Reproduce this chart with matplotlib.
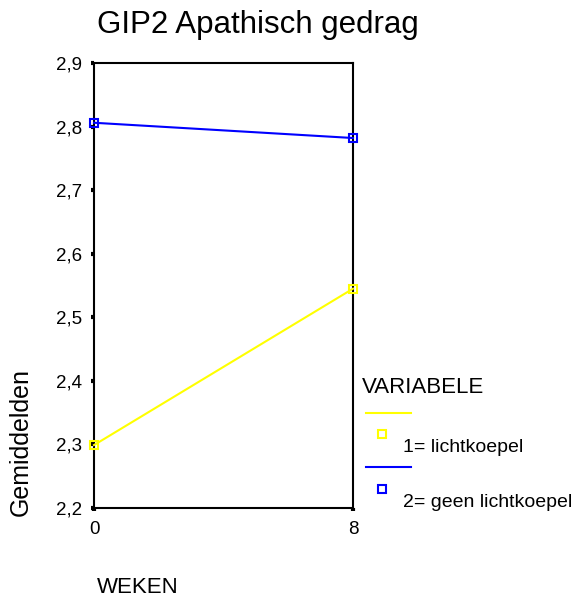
import matplotlib
matplotlib.use("Agg")
import matplotlib.pyplot as plt
from matplotlib.lines import Line2D

plt.rcParams['font.family'] = ['Liberation Sans', 'DejaVu Sans']

weeks = [0, 8]
lichtkoepel = [2.299, 2.545]
geen_lichtkoepel = [2.806, 2.782]
yticks = [2.2, 2.3, 2.4, 2.5, 2.6, 2.7, 2.8, 2.9]
ytick_labels = ["2,2", "2,3", "2,4", "2,5", "2,6", "2,7", "2,8", "2,9"]
series_labels = ["1= lichtkoepel", "2= geen lichtkoepel"]
colors = ["#ffff00", "#0000ff"]

W, H = 580, 599
fig = plt.figure(figsize=(W/100, H/100), dpi=100)
ax = fig.add_axes([94/W, 1-508/H, (353-94)/W, (508-63)/H])

for vals, c in zip([lichtkoepel, geen_lichtkoepel], colors):
    ax.plot(weeks, vals, color=c, lw=1.5, marker='s', ms=6, mfc='none',
            mec=c, mew=1.5, clip_on=False, zorder=3)

ax.set_xlim(0, 8)
ax.set_ylim(2.2, 2.9)
ax.set_xticks(weeks)
ax.set_xticklabels([str(w) for w in weeks], fontsize=13.5)
ax.set_yticks(yticks)
ax.set_yticklabels(ytick_labels, fontsize=13.5)
ax.tick_params(axis='both', direction='out', length=2.5, width=3, color='black')
ax.tick_params(axis='y', pad=6)
ax.tick_params(axis='x', pad=7)
for s in ax.spines.values():
    s.set_linewidth(1.5)
    s.set_color('black')

fig.text(97/W, 1-33/H, "GIP2 Apathisch gedrag", fontsize=22.5, ha='left', va='baseline')
fig.text(28/W, 1-442/H, "Gemiddelden", fontsize=18, rotation=90, rotation_mode='anchor',
         ha='center', va='baseline')
fig.text(97/W, 1-593/H, "WEKEN", fontsize=16, ha='left', va='baseline')

# legend
fig.text(362/W, 1-393/H, "VARIABELE", fontsize=16, ha='left', va='baseline')
leg_y = [(413, 434, 452), (467, 489, 507)]
for (ly, my, ty), c, lab in zip(leg_y, colors, series_labels):
    fig.add_artist(Line2D([366/W, 411/W], [1-ly/H, 1-ly/H], color=c, lw=1.5))
    fig.add_artist(Line2D([382/W], [1-my/H], marker='s', ms=6, mfc='none', mec=c, mew=1.5))
    fig.text(403/W, 1-ty/H, lab, fontsize=14, ha='left', va='baseline')

fig.savefig("out.png", dpi=100)
